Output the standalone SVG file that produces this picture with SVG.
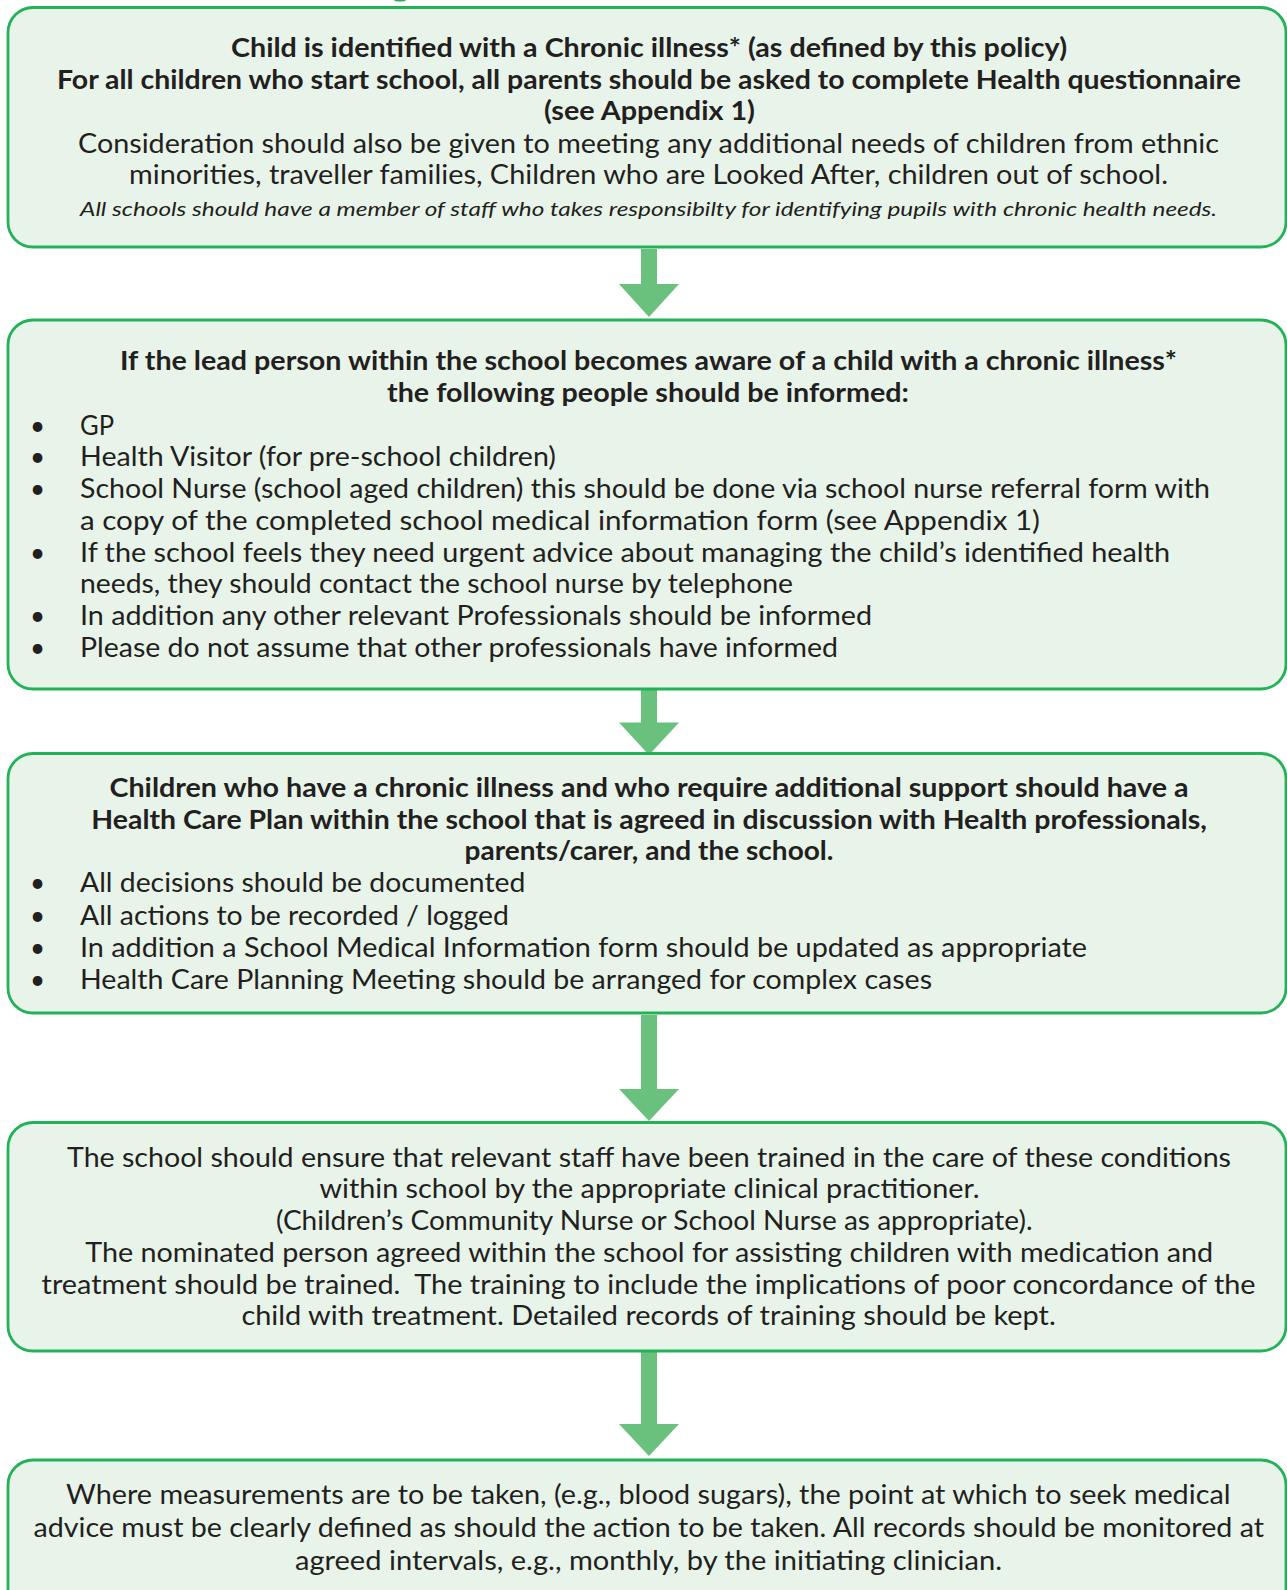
<svg xmlns="http://www.w3.org/2000/svg" width="1287" height="1590" viewBox="0 0 1287 1590">
<style>
.box{fill:#e8f4ea;stroke:#22b257;stroke-width:2.8}
.arr{fill:#6ac07d}
text{font-family:Lato,"Open Sans","Noto Sans","Liberation Sans",sans-serif;fill:#231f20;font-size:26px}
.b{font-weight:700}
.i{font-style:italic;font-size:20px}
.bu{text-anchor:middle}
</style>
<rect width="1287" height="1590" fill="#ffffff"/>
<ellipse cx="400" cy="0" rx="6" ry="1.6" fill="#22b257"/>
<g id="connectors">
<path class="arr" d="M641,249H657V284H679L649,317L619,284H641Z"/>
<path class="arr" d="M641,689H657V722.5H679L649,755L619,722.5H641Z"/>
<path class="arr" d="M641,1015H657V1089H679L649,1121L619,1089H641Z"/>
<path class="arr" d="M641,1352H657V1424H679L649,1456L619,1424H641Z"/>
</g>
<g id="node1">
<rect class="box" x="8" y="7.5" width="1278" height="239.5" rx="25"/>
<text class="b" x="231" y="57" textLength="836" lengthAdjust="spacingAndGlyphs">Child is identified with a Chronic illness* (as defined by this policy)</text>
<text class="b" x="57" y="88.5" textLength="1184" lengthAdjust="spacingAndGlyphs">For all children who start school, all parents should be asked to complete Health questionnaire</text>
<text class="b" x="544" y="120" textLength="211" lengthAdjust="spacingAndGlyphs">(see Appendix 1)</text>
<text x="78" y="152.5" textLength="1141" lengthAdjust="spacingAndGlyphs">Consideration should also be given to meeting any additional needs of children from ethnic</text>
<text x="129" y="184" textLength="1039" lengthAdjust="spacingAndGlyphs">minorities, traveller families, Children who are Looked After, children out of school.</text>
<text class="i" x="80" y="216" textLength="1137" lengthAdjust="spacingAndGlyphs">All schools should have a member of staff who takes responsibilty for identifying pupils with chronic health needs.</text>
</g>
<g id="node2">
<rect class="box" x="8" y="320" width="1278" height="369" rx="25"/>
<text class="b" x="120" y="370" textLength="1057" lengthAdjust="spacingAndGlyphs">If the lead person within the school becomes aware of a child with a chronic illness*</text>
<text class="b" x="387" y="401.7" textLength="522" lengthAdjust="spacingAndGlyphs">the following people should be informed:</text>
<text class="bu" x="37.5" y="434.5">•</text>
<text x="80" y="434.5" textLength="34" lengthAdjust="spacingAndGlyphs">GP</text>
<text class="bu" x="37.5" y="466.3">•</text>
<text x="80" y="466.3" textLength="476" lengthAdjust="spacingAndGlyphs">Health Visitor (for pre-school children)</text>
<text class="bu" x="37.5" y="498">•</text>
<text x="80" y="498" textLength="1130" lengthAdjust="spacingAndGlyphs">School Nurse (school aged children) this should be done via school nurse referral form with</text>
<text x="80" y="529.8" textLength="960" lengthAdjust="spacingAndGlyphs">a copy of the completed school medical information form (see Appendix 1)</text>
<text class="bu" x="37.5" y="561.6">•</text>
<text x="80" y="561.6" textLength="1090" lengthAdjust="spacingAndGlyphs">If the school feels they need urgent advice about managing the child’s identified health</text>
<text x="80" y="593.4" textLength="713" lengthAdjust="spacingAndGlyphs">needs, they should contact the school nurse by telephone</text>
<text class="bu" x="37.5" y="625.2">•</text>
<text x="80" y="625.2" textLength="792" lengthAdjust="spacingAndGlyphs">In addition any other relevant Professionals should be informed</text>
<text class="bu" x="37.5" y="657">•</text>
<text x="80" y="657" textLength="758" lengthAdjust="spacingAndGlyphs">Please do not assume that other professionals have informed</text>
</g>
<g id="node3">
<rect class="box" x="8" y="753.5" width="1278" height="259.5" rx="25"/>
<text class="b" x="109.5" y="796.5" textLength="1079" lengthAdjust="spacingAndGlyphs">Children who have a chronic illness and who require additional support should have a</text>
<text class="b" x="91.3" y="828.5" textLength="1115.6" lengthAdjust="spacingAndGlyphs">Health Care Plan within the school that is agreed in discussion with Health professionals,</text>
<text class="b" x="464.5" y="860.3" textLength="369" lengthAdjust="spacingAndGlyphs">parents/carer, and the school.</text>
<text class="bu" x="37.5" y="892.3">•</text>
<text x="80" y="892.3" textLength="445.4" lengthAdjust="spacingAndGlyphs">All decisions should be documented</text>
<text class="bu" x="37.5" y="924.6">•</text>
<text x="80" y="924.6" textLength="429" lengthAdjust="spacingAndGlyphs">All actions to be recorded / logged</text>
<text class="bu" x="37.5" y="956.8">•</text>
<text x="80" y="956.8" textLength="1007" lengthAdjust="spacingAndGlyphs">In addition a School Medical Information form should be updated as appropriate</text>
<text class="bu" x="37.5" y="988.6">•</text>
<text x="80" y="988.6" textLength="852" lengthAdjust="spacingAndGlyphs">Health Care Planning Meeting should be arranged for complex cases</text>
</g>
<g id="node4">
<rect class="box" x="8" y="1122.5" width="1278" height="228.5" rx="25"/>
<text x="67" y="1166.5" textLength="1164" lengthAdjust="spacingAndGlyphs">The school should ensure that relevant staff have been trained in the care of these conditions</text>
<text x="319.5" y="1198" textLength="660" lengthAdjust="spacingAndGlyphs">within school by the appropriate clinical practitioner.</text>
<text x="276" y="1229.7" textLength="756.5" lengthAdjust="spacingAndGlyphs">(Children’s Community Nurse or School Nurse as appropriate).</text>
<text x="85.2" y="1261.5" textLength="1128" lengthAdjust="spacingAndGlyphs">The nominated person agreed within the school for assisting children with medication and</text>
<text x="41.6" y="1293.5" textLength="1214" lengthAdjust="spacingAndGlyphs">treatment should be trained.&#160; The training to include the implications of poor concordance of the</text>
<text x="241.4" y="1325.3" textLength="814.4" lengthAdjust="spacingAndGlyphs">child with treatment. Detailed records of training should be kept.</text>
</g>
<g id="node5">
<rect class="box" x="8" y="1460" width="1278" height="160" rx="25"/>
<text x="66" y="1504" textLength="1164.5" lengthAdjust="spacingAndGlyphs">Where measurements are to be taken, (e.g., blood sugars), the point at which to seek medical</text>
<text x="33.5" y="1537" textLength="1230.5" lengthAdjust="spacingAndGlyphs">advice must be clearly defined as should the action to be taken. All records should be monitored at</text>
<text x="295" y="1570" textLength="707" lengthAdjust="spacingAndGlyphs">agreed intervals, e.g., monthly, by the initiating clinician.</text>
</g>
</svg>
